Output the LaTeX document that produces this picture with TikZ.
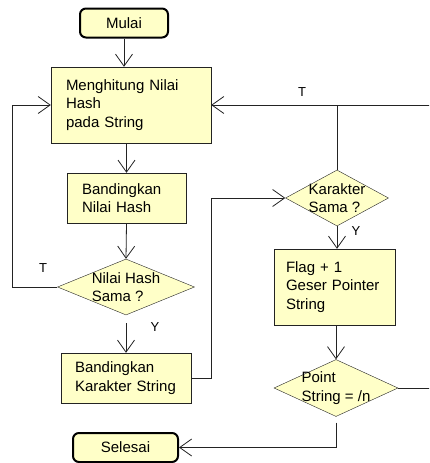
\documentclass[tikz,border=0pt]{standalone}
\usepackage{fontspec}
\setmainfont{Liberation Sans}
\usetikzlibrary{shapes.geometric,arrows.meta}
\definecolor{boxfill}{RGB}{255,255,200}
\definecolor{lineclr}{RGB}{35,35,35}

\begin{document}
\begin{tikzpicture}[x=1pt, y=-1pt,
    font=\fontsize{15}{18.5}\selectfont,
    proc/.style={draw=lineclr, fill=boxfill, rectangle, align=left, inner xsep=12pt, inner ysep=0pt},
    term/.style={draw=black, line width=2pt, fill=boxfill, rounded corners=6pt, minimum height=29pt},
    decide/.style={draw=lineclr, fill=boxfill, diamond, inner sep=0pt},
    flow/.style={draw=lineclr, line width=0.8pt, -{Straight Barb[length=12pt,width=17pt]}},
    link/.style={draw=lineclr, line width=0.8pt},
    tag/.style={font=\fontsize{13}{15}\selectfont, inner sep=1pt}]
    \clip (0,0) rectangle (429,463);

	\node[term, minimum width=88pt] (mulai) at (124,23) {Mulai};
    \node[proc, text width=136pt, minimum height=76pt] (hash) at (131,105) {\hspace*{3pt}Menghitung Nilai\\\hspace*{3pt}Hash\\\hspace*{3pt}pada String};
    \node[proc, text width=95pt, minimum height=50pt] (cmphash) at (126.5,198) {\hspace*{3pt}Bandingkan\\\hspace*{3pt}Nilai Hash};
    \node[decide, minimum width=137pt, minimum height=56pt] (dhash) at (126,287) {};
    \node[align=left] (dhashtext) at (dhash) {Nilai Hash\\Sama ?};
    \node[proc, text width=106pt, minimum height=50pt] (cmpchar) at (126,378) {\hspace*{2pt}Bandingkan\\\hspace*{2pt}Karakter String};
    \node[term, minimum width=105pt] (selesai) at (125.5,447.5) {Selesai};

    \node[decide, minimum width=103pt, minimum height=56pt] (dchar) at (337,198) {};
    \node[align=left] (dchartext) at (dchar) {Karakter\\Sama ?};
    \node[proc, text width=97pt, minimum height=76pt] (flag) at (334.5,287) {Flag + 1\\Geser Pointer\\String};
    \node[decide, minimum width=124pt, minimum height=57pt] (dpoint) at (336,388) {};
    \node[align=left] (dpointtext) at (dpoint) {Point\\String = /n};

    \coordinate (loopleft) at (12,105);
    \coordinate (loopmid) at (211,378);
    \coordinate (loopright) at (470,388);

    \draw[flow] (mulai.south) -- (mulai.south |- hash.north);
    \draw[flow] (cmphash.north |- hash.south) -- (cmphash.north);
    \draw[flow] (cmphash.south) -- (dhash.north);
    \draw[flow, shorten <=8pt] (dhash.south) -- (cmpchar.north);
    \draw[flow] (dhash.west) -| (loopleft) -- (hash.west);
    \draw[flow] (cmpchar.east) -- (loopmid) |- (dchar.west);
    \draw[flow] (dchar.north) |- (hash.east);
    \draw[flow] (dchar.south) -- (dchar.south |- flag.north);
    \draw[flow] (dpoint.north |- flag.south) -- (dpoint.north);
    \draw[link] (dpoint.east) -- (loopright) |- (dchar.north |- hash.east);
    \draw[flow, shorten <=6pt] (dpoint.south) |- (selesai.east);

    \node[tag] (tleft) at (43,268) {T};
    \node[tag] (ydhash) at (155,327) {Y};
    \node[tag] (ttop) at (302,92) {T};
    \node[tag] (ydchar) at (356,231) {Y};
\end{tikzpicture}
\end{document}
